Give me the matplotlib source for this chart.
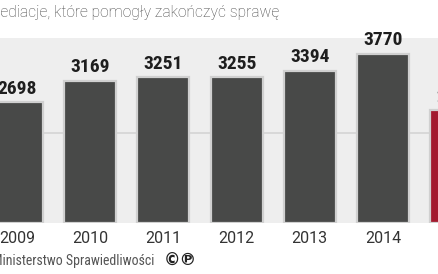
import matplotlib
matplotlib.use("Agg")
import matplotlib.pyplot as plt
import numpy as np

years = ["2009", "2010", "2011", "2012", "2013", "2014", "2015"]
values = [2698, 3169, 3251, 3255, 3394, 3770, 2515]
bar_colors = ["#484948"] * 6 + ["#a3192e"]

title = "Mediacje, które pomogły zakończyć sprawę"
source = "Ministerstwo Sprawiedliwości"

W, H = 439, 274
fig = plt.figure(figsize=(W / 100, H / 100), dpi=100)
fig.patch.set_facecolor("white")

# plot area: bottom at 223 px, top at 38 px (from the top edge)
ax = fig.add_axes([0, (H - 223) / H, 1, 185 / H])
ax.set_facecolor("#eeeeee")
x = np.arange(len(years))

ax.axhline(2000, color="#d4d4d4", lw=1.2, zorder=1)
ax.bar(x, values, width=0.71, color=bar_colors, edgecolor="#d0d0d0",
       linewidth=1.6, zorder=2)

for xi, v in zip(x, values):
    ax.text(xi, v + 95, f"{v}", ha="center", va="bottom", fontsize=14,
            fontweight="bold", family="Roboto Condensed", color="#1e1e1e",
            clip_on=False)

# year labels as annotations so the cut-off 2015 still shows at the edge
for xi, y in zip(x, years):
    ax.annotate(y, xy=(xi, 0), xycoords=("data", "axes fraction"),
                xytext=(0, -6), textcoords="offset points", ha="center",
                va="top", fontsize=11.5, color="#333333", family="Roboto",
                annotation_clip=False)

ax.set_xticks([])
ax.set_yticks([])
ax.set_xlim(-0.232, 5.765)
ax.set_ylim(0, 4120)
for s in ax.spines.values():
    s.set_visible(False)

fig.canvas.draw()
r = fig.canvas.get_renderer()


def width_px(s, **kw):
    t = fig.text(0, 0, s, **kw)
    w = t.get_window_extent(r).width
    t.remove()
    return w


# title, cut at the left edge like the original; fit visible part to 278 px
tkw = dict(family="Roboto", fontweight="light")
fs = 11 * 278 / width_px(title[1:], fontsize=11, **tkw)
shift = width_px("M", fontsize=fs, **tkw)
fig.text(-shift / W, 1 - 17 / H, title, fontsize=fs, color="#444444",
         va="baseline", ha="left", **tkw)

skw = dict(family="Roboto Condensed")
fs2 = 9 * 153 / width_px(source[1:], fontsize=9, **skw)
shift2 = width_px("M", fontsize=fs2, **skw) * 0.75
fig.text(-shift2 / W, 1 - 265 / H, source, fontsize=fs2, color="#555555",
         va="baseline", ha="left", **skw)
fig.text(164 / W, 1 - 266 / H, "©℗", fontsize=12, fontweight="bold",
         family="DejaVu Sans", color="#222222", va="baseline", ha="left")

fig.savefig("out.png", dpi=100)
